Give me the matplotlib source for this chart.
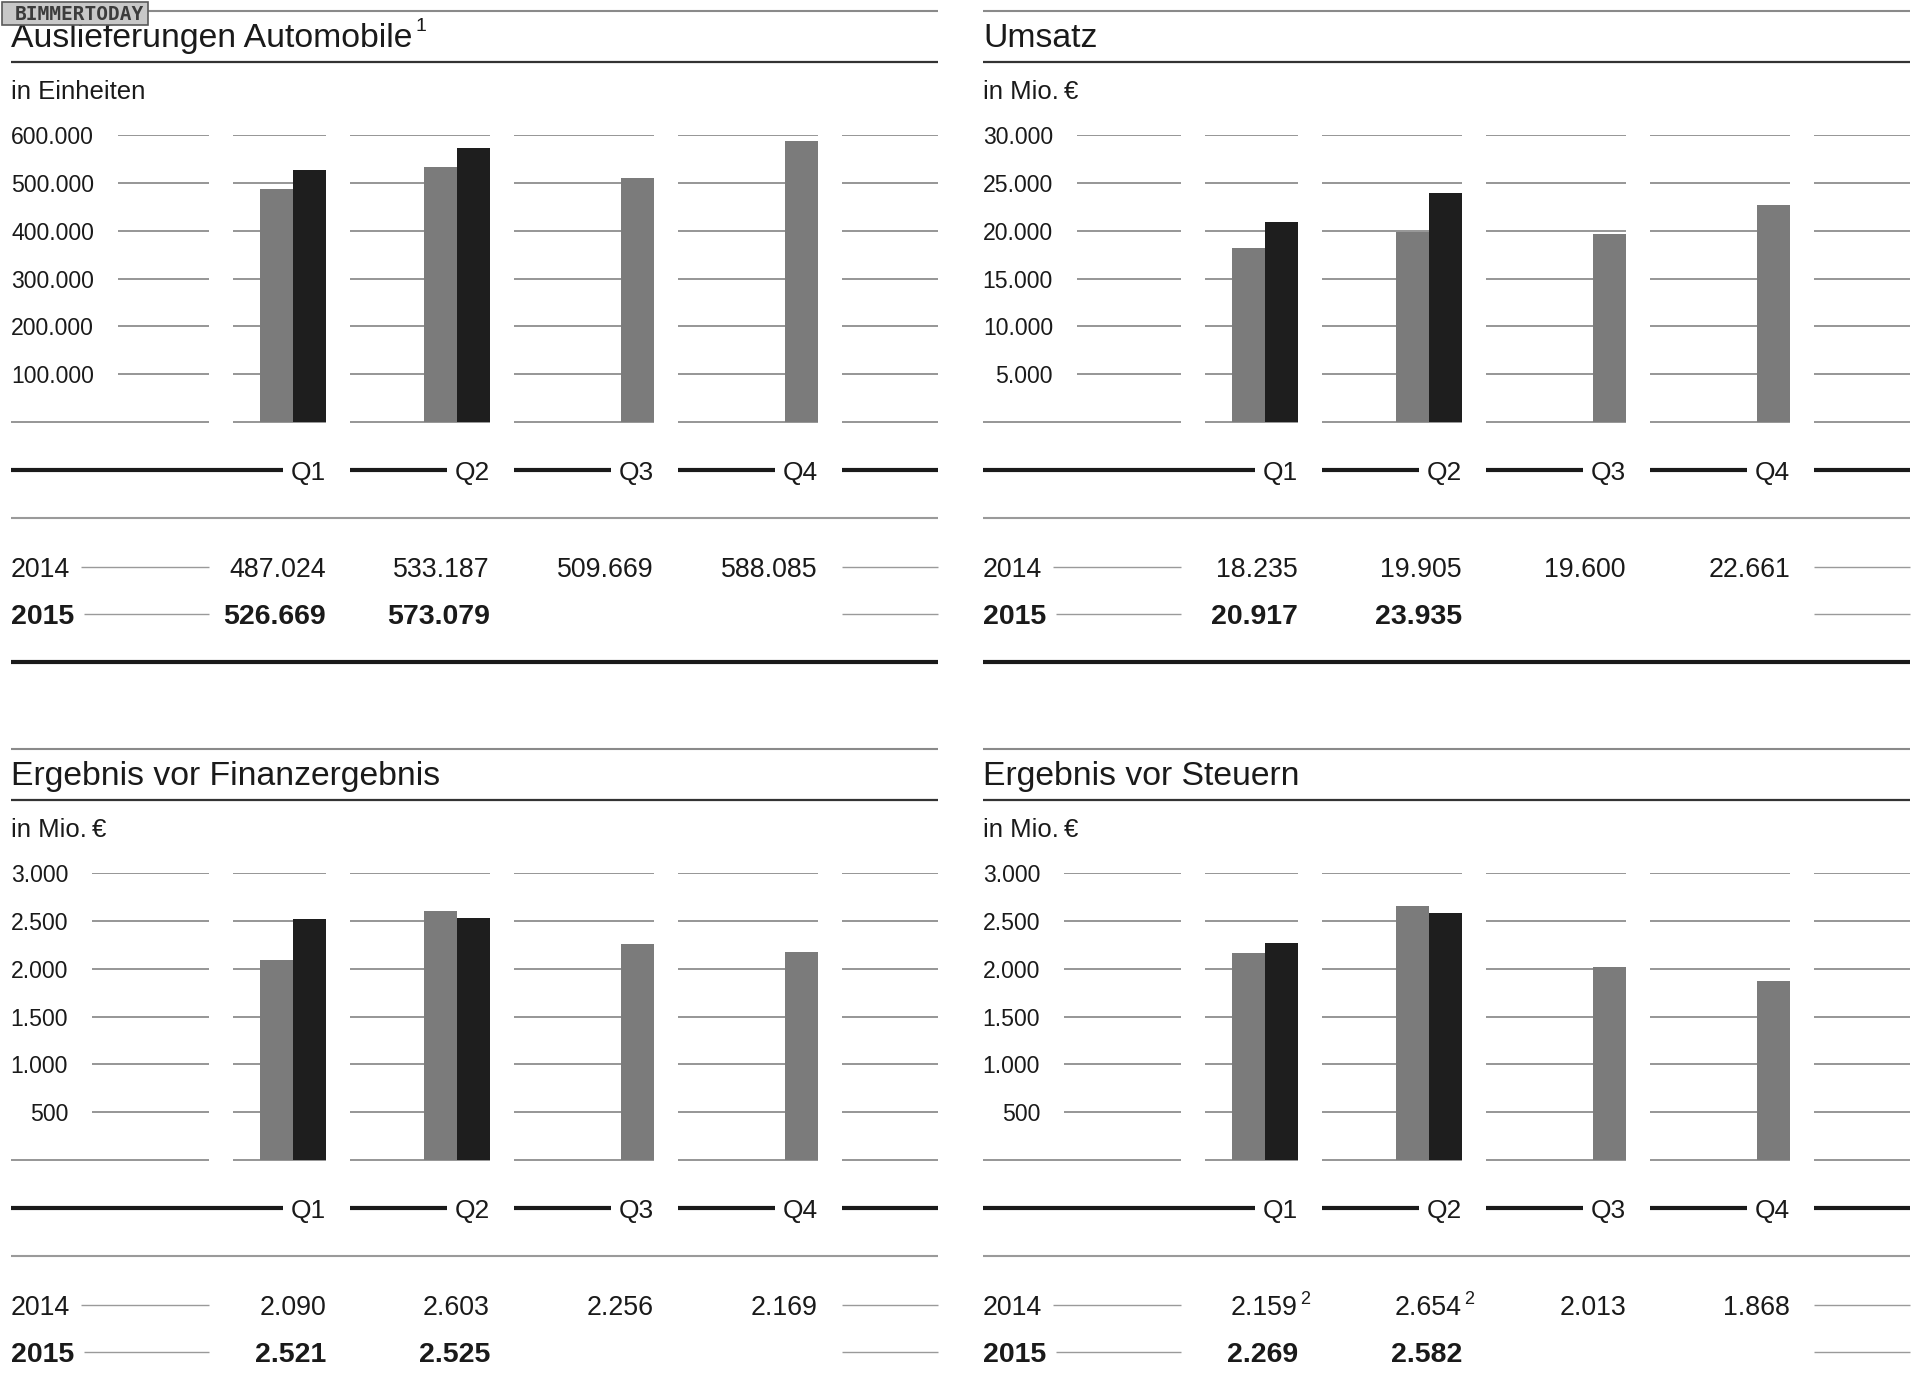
import numpy as np
import matplotlib.pyplot as plt
from matplotlib.patches import Rectangle
from matplotlib.ticker import FuncFormatter
from matplotlib.transforms import blended_transform_factory

plt.rcParams['font.family'] = ['Liberation Sans', 'DejaVu Sans']

# ---------------------------------------------------------------
# data (BMW Group, quarterly 2014 / 2015)
# ---------------------------------------------------------------
quarters = ['Q1', 'Q2', 'Q3', 'Q4']
years = ['2014', '2015']

deliveries_2014 = [487024, 533187, 509669, 588085]
deliveries_2015 = [526669, 573079]
revenue_2014 = [18235, 19905, 19600, 22661]
revenue_2015 = [20917, 23935]
ebit_2014 = [2090, 2603, 2256, 2169]
ebit_2015 = [2521, 2525]
ebt_2014 = [2159, 2654, 2013, 1868]
ebt_2015 = [2269, 2582]
ebt_2014_notes = ['2', '2', '', '']

titles = ['Auslieferungen Automobile', 'Umsatz',
          'Ergebnis vor Finanzergebnis', 'Ergebnis vor Steuern']
title_notes = ['1', '', '', '']
units = ['in Einheiten', 'in Mio.\u2009€', 'in Mio.\u2009€', 'in Mio.\u2009€']
ticks_deliveries = [100000, 200000, 300000, 400000, 500000, 600000]
ticks_revenue = [5000, 10000, 15000, 20000, 25000, 30000]
ticks_result = [500, 1000, 1500, 2000, 2500, 3000]

series_2014 = [deliveries_2014, revenue_2014, ebit_2014, ebt_2014]
series_2015 = [deliveries_2015, revenue_2015, ebit_2015, ebt_2015]
series_ticks = [ticks_deliveries, ticks_revenue, ticks_result, ticks_result]
notes_2014 = [['']*4, ['']*4, ['']*4, ebt_2014_notes]

# ---------------------------------------------------------------
# layout (pixels of the 1920x1377 canvas)
# ---------------------------------------------------------------
W, H = 1920, 1377
GRAY_BAR = '#7b7b7b'
BLACK_BAR = '#1e1e1e'
GRID = '#8e8e8e'
TXT = '#1a1a1a'

panel_x = [11, 983]        # left edge of left / right panel
panel_dy = [0, 738]        # vertical offset of upper / lower row
label_right = [83, 70, 57, 57]   # right edge of y labels (relative px)
grid_start = [107, 94, 81, 81]   # start of first grid segment (relative px)


def fy(py):
    return 1 - py / H


def rel(px):
    # relative pixel inside a panel -> data x (one quarter = 164 px, Q1 edge at 1)
    return (px - 315) / 164 + 1


def de(v):
    return f'{int(v):,}'.replace(',', '.')


XL, XR = rel(0), rel(927)
col_segments = [(0.433, 1), (1.146, 2), (2.146, 3), (3.146, 4), (4.146, XR)]

fig = plt.figure(figsize=(W / 100, H / 100), dpi=100)
fig.patch.set_facecolor('white')
title_texts = []

for i in range(4):
    r, c = divmod(i, 2)
    x0 = panel_x[c]
    dy = panel_dy[r]
    ticks = series_ticks[i]
    ymax = ticks[-1]

    ax = fig.add_axes([x0 / W, fy(422 + dy), 927 / W, 287 / H])
    ax.set_xlim(XL, XR)
    ax.set_ylim(0, ymax)
    for s in ax.spines.values():
        s.set_visible(False)
    ax.set_xticks([])
    ax.set_yticks(ticks)
    ax.yaxis.set_major_formatter(FuncFormatter(lambda v, p: de(v)))
    ax.tick_params(axis='y', length=0, pad=-label_right[i] * 0.72,
                   labelsize=16.6, labelcolor=TXT)
    for lab in ax.get_yticklabels():
        lab.set_horizontalalignment('right')
    ax.patch.set_alpha(0)

    # grid segments
    g0 = rel(grid_start[i])
    for t in ticks:
        ax.hlines(t, g0, rel(198), color=GRID, lw=1.3, zorder=1)
        for a, b in col_segments:
            ax.hlines(t, a, b, color=GRID, lw=1.3, zorder=1)
    ax.hlines(0, XL, rel(198), color=GRID, lw=1.3, zorder=1, clip_on=False)
    for a, b in col_segments:
        ax.hlines(0, a, b, color=GRID, lw=1.3, zorder=1, clip_on=False)

    # bars: gray 2014 next to black 2015, gray alone sits at the column edge
    q = np.arange(1, 5)
    v14 = series_2014[i]
    v15 = series_2015[i]
    n15 = len(v15)
    x14 = np.where(q <= n15, q - 0.3, q - 0.1)
    ax.bar(x14, v14, width=0.2, color=GRAY_BAR, zorder=3, clip_on=False)
    ax.bar(q[:n15] - 0.1, v15, width=0.2, color=BLACK_BAR, zorder=3,
           clip_on=False)

    tr = blended_transform_factory(ax.transData, fig.transFigure)

    def hline(y, a, b, **kw):
        ax.plot([a, b], [fy(y + dy)] * 2, transform=tr, clip_on=False,
                solid_capstyle='butt', **kw)

    # header
    hline(11, XL, XR, color='#8a8a8a', lw=1.5)
    tt = ax.text(XL, fy(47 + dy), titles[i], transform=tr, fontsize=24.3,
                 color=TXT, va='baseline', ha='left')
    title_texts.append((tt, i, dy))
    hline(62, XL, XR, color='#333333', lw=1.6)
    ax.text(XL, fy(99 + dy), units[i], transform=tr, fontsize=18.5,
            color=TXT, va='baseline', ha='left')

    # quarter row
    hline(470, XL, 1 - 0.265, color=TXT, lw=3.0)
    for k in range(1, 4):
        hline(470, k + 0.146, k + 1 - 0.265, color=TXT, lw=3.0)
    hline(470, 4.146, XR, color=TXT, lw=3.0)
    for k, ql in enumerate(quarters):
        ax.text(k + 1, fy(480 + dy), ql, transform=tr, fontsize=19,
                color=TXT, ha='right', va='baseline')

    hline(518, XL, XR, color='#9a9a9a', lw=1.5)

    # value table
    hline(567, rel(70), rel(198), color='#9a9a9a', lw=1.0)
    hline(567, 4.146, XR, color='#9a9a9a', lw=1.0)
    ax.text(XL, fy(577 + dy), years[0], transform=tr, fontsize=19.3,
            color=TXT, ha='left', va='baseline')
    for k, v in enumerate(v14):
        ax.text(k + 1, fy(577 + dy), de(v), transform=tr, fontsize=19.3,
                color=TXT, ha='right', va='baseline')
        note = notes_2014[i][k]
        if note:
            ax.text(k + 1.015, fy(566 + dy), note, transform=tr, fontsize=13,
                    color=TXT, ha='left', va='baseline')

    hline(614, rel(73), rel(198), color='#9a9a9a', lw=1.0)
    hline(614, 4.146, XR, color='#9a9a9a', lw=1.0)
    ax.text(XL, fy(624 + dy), years[1], transform=tr, fontsize=20.5,
            fontweight='bold', color=TXT, ha='left', va='baseline')
    for k, v in enumerate(v15):
        ax.text(k + 1, fy(624 + dy), de(v), transform=tr, fontsize=20.5,
                fontweight='bold', color=TXT, ha='right', va='baseline')

    hline(662, XL, XR, color=TXT, lw=3.0)

# footnote marks after titles
fig.canvas.draw()
renderer = fig.canvas.get_renderer()
for tt, i, dy in title_texts:
    if title_notes[i]:
        bb = tt.get_window_extent(renderer)
        fig.text((bb.x1 + 3) / W, fy(31 + dy), title_notes[i], fontsize=14,
                 color=TXT, ha='left', va='baseline')

# watermark
fig.patches.append(Rectangle((2 / W, fy(25)), 146 / W, 23 / H,
                             transform=fig.transFigure, facecolor='#c8c8c8',
                             edgecolor='#5a5a5a', lw=1.2, zorder=10))
fig.text(15 / W, fy(14), 'BIMMERTODAY', family='DejaVu Sans Mono',
         fontweight='bold', fontsize=14, color='#3c3c3c', ha='left',
         va='center', zorder=11)

fig.savefig('out.png', dpi=100, facecolor='white')
